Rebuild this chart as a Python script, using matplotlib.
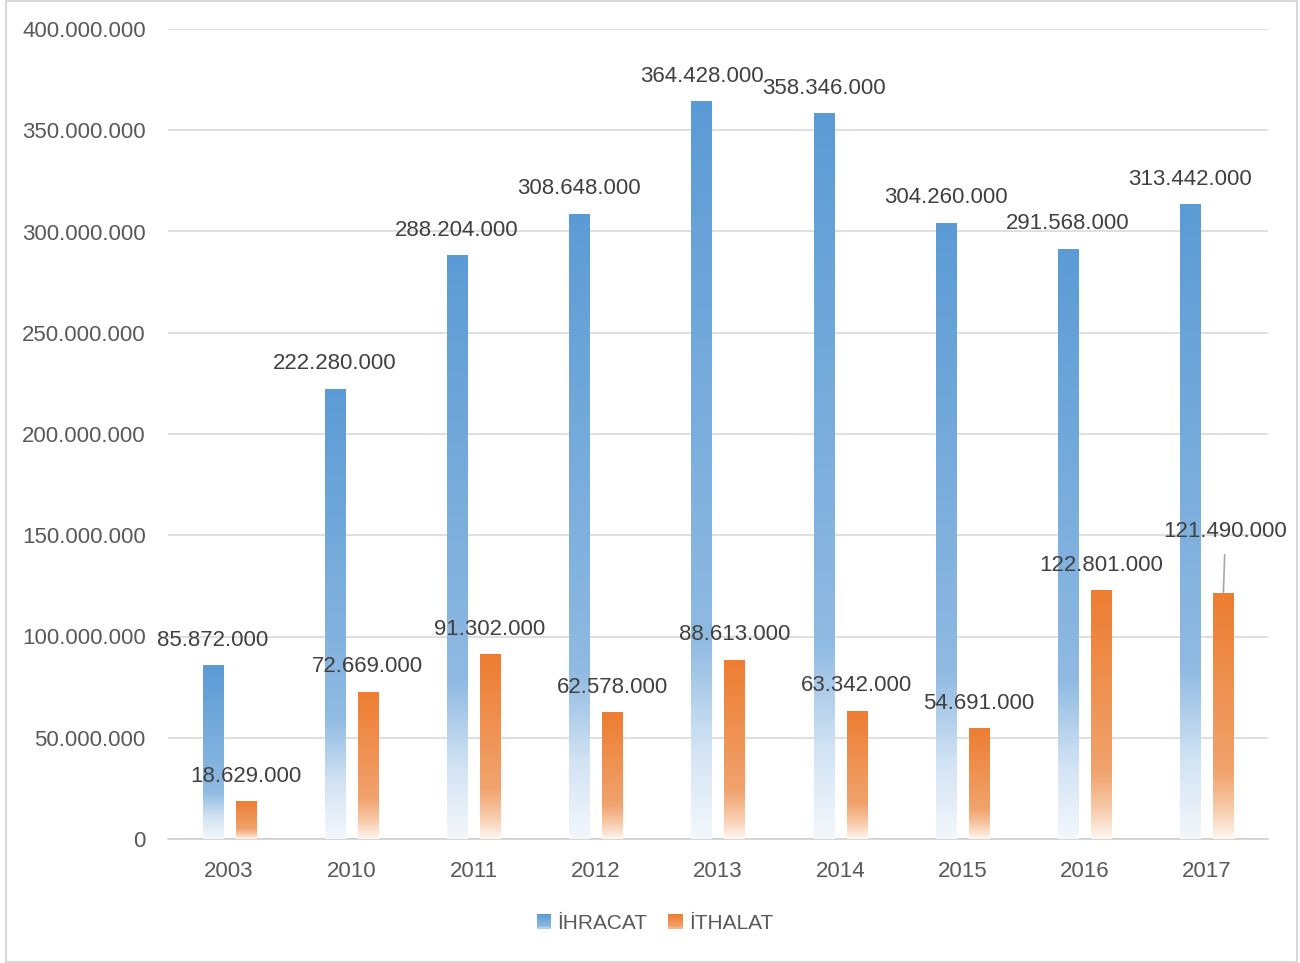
import matplotlib
matplotlib.use("Agg")
import matplotlib.pyplot as plt
import numpy as np
from matplotlib.colors import LinearSegmentedColormap
from matplotlib.patches import Rectangle
from matplotlib.legend_handler import HandlerBase

years = ["2003", "2010", "2011", "2012", "2013", "2014", "2015", "2016", "2017"]
ihracat = [85872000, 222280000, 288204000, 308648000, 364428000, 358346000, 304260000, 291568000, 313442000]
ithalat = [18629000, 72669000, 91302000, 62578000, 88613000, 63342000, 54691000, 122801000, 121490000]
series_names = ["İHRACAT", "İTHALAT"]
yticks = [0, 50000000, 100000000, 150000000, 200000000, 250000000, 300000000, 350000000, 400000000]

FONT = "Liberation Sans"
plt.rcParams["font.family"] = [FONT, "DejaVu Sans"]

def fmt(v):
    return f"{int(v):,}".replace(",", ".")

blue_cmap = LinearSegmentedColormap.from_list(
    "b", [(0.0, "#F3F7FC"), (0.12, "#D3E4F4"), (0.27, "#8FBAE2"), (1.0, "#5B9BD5")])
orange_cmap = LinearSegmentedColormap.from_list(
    "o", [(0.0, "#FEF6F0"), (0.12, "#F7CBAA"), (0.27, "#F1A36D"), (1.0, "#ED7D31")])

fig = plt.figure(figsize=(13, 9.63), dpi=100)
ax = fig.add_axes([168/1300, 1-839/963, 1100/1300, 810/963])

x = np.arange(len(years))
w = 0.165
off = 0.135
grad = np.linspace(0, 1, 256).reshape(-1, 1)

def grad_bars(xs, vals, cmap):
    bars = ax.bar(xs, vals, width=w, facecolor="none", edgecolor="none", zorder=3)
    for b in bars:
        x0, y0 = b.get_x(), b.get_y()
        im = ax.imshow(grad, cmap=cmap, aspect="auto", origin="lower",
                       extent=[x0, x0 + b.get_width(), y0, y0 + b.get_height()],
                       zorder=3, interpolation="bilinear")
        im.set_clip_path(b)
    return bars

grad_bars(x - off, ihracat, blue_cmap)
grad_bars(x + off, ithalat, orange_cmap)

ax.set_xlim(-0.5, len(years) - 0.5)
ax.set_ylim(0, 400000000)
ax.set_yticks(yticks)
ax.set_yticklabels([fmt(v) for v in yticks])
ax.set_xticks(x)
ax.set_xticklabels(years)
ax.tick_params(axis="both", length=0, labelsize=16, colors="#595959")
ax.tick_params(axis="y", pad=16)
ax.tick_params(axis="x", pad=16)
for s in ["top", "right", "left"]:
    ax.spines[s].set_visible(False)
ax.spines["bottom"].set_color("#D0D0D0")
ax.spines["bottom"].set_linewidth(1.2)
ax.yaxis.grid(True, color="#D9D9D9", linewidth=1.2, zorder=0)
ax.set_axisbelow(True)

lab_kw = dict(ha="center", va="center", fontsize=16, color="#404040", zorder=5,
              textcoords="offset points")
for i in range(len(years)):
    ax.annotate(fmt(ihracat[i]), (x[i] - off, ihracat[i]), xytext=(0, 18), **lab_kw)
    if i == len(years) - 1:
        ax.annotate(fmt(ithalat[i]), (x[i] + off, ithalat[i]), xytext=(1.5, 44),
                    arrowprops=dict(arrowstyle="-", color="#A6A6A6", lw=1.2,
                                    shrinkA=7, shrinkB=0), **lab_kw)
    else:
        ax.annotate(fmt(ithalat[i]), (x[i] + off, ithalat[i]), xytext=(0, 18), **lab_kw)

class GradHandler(HandlerBase):
    def __init__(self, cmap):
        super().__init__()
        self.cmap = cmap
    def create_artists(self, legend, orig_handle, xdescent, ydescent, width, height, fontsize, trans):
        n = 12
        size = height * 1.0
        x0 = width - size
        arts = []
        for k in range(n):
            r = Rectangle((x0 - xdescent, -ydescent + size * k / n), size, size / n + 0.3,
                          facecolor=self.cmap(k / (n - 1) * 0.8 + 0.2), edgecolor="none",
                          transform=trans)
            arts.append(r)
        return arts

h1 = Rectangle((0, 0), 1, 1)
h2 = Rectangle((0, 0), 1, 1)
leg = fig.legend([h1, h2], series_names, loc="center", bbox_to_anchor=(655/1300, 1-923/963),
                 ncol=2, frameon=False, fontsize=15, handlelength=0.7, handleheight=0.7,
                 handletextpad=0.3, columnspacing=1.0,
                 handler_map={h1: GradHandler(blue_cmap), h2: GradHandler(orange_cmap)})
for t in leg.get_texts():
    t.set_color("#595959")

border = Rectangle((6/1300, 1/963), 1291/1300, 961/963, transform=fig.transFigure,
                   facecolor="none", edgecolor="#D9D9D9", linewidth=1.5)
fig.patches.append(border)

fig.savefig("out.png", dpi=100, facecolor="white")
